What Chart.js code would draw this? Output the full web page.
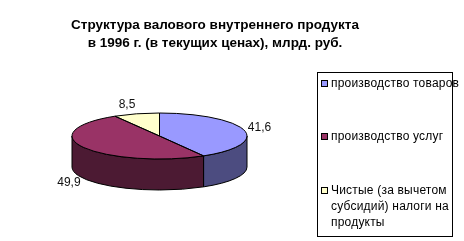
<!DOCTYPE html>
<html><head><meta charset="utf-8">
<script src="https://cdn.jsdelivr.net/npm/chart.js@4"></script>
<style>
html,body{margin:0;padding:0;background:#fff;}
#wrap{position:relative;width:464px;height:241px;overflow:hidden;font-family:"Liberation Sans",Arial,sans-serif;}
#c{position:absolute;left:0;top:0;}
#title{position:absolute;left:0;width:430px;top:16px;text-align:center;font-weight:bold;font-size:13.5px;line-height:18px;color:#000;}
#legend{position:absolute;left:317px;top:72px;width:136px;height:165px;border:1px solid #000;box-sizing:border-box;font-size:12px;letter-spacing:0.2px;color:#000;overflow:visible;}
.item{position:absolute;left:3px;white-space:nowrap;line-height:16px;}
.item span.m{position:absolute;left:0;top:5px;width:7px;height:7px;border:1px solid #000;box-sizing:border-box;}
.item div{margin-left:10px;}
</style></head>
<body><div id="wrap">
<canvas id="c" width="464" height="241"></canvas>
<div id="title">Структура валового внутреннего продукта<br>в 1996 г. (в текущих ценах), млрд. руб.</div>
<div id="legend"></div>
</div>
<script>
const categories = ["производство товаров", "производство услуг", "Чистые (за вычетом субсидий) налоги на продукты"];
const legendLines = [["производство товаров"], ["производство услуг"], ["Чистые (за вычетом", "субсидий) налоги на", "продукты"]];
const values = [41.6, 49.9, 8.5];
const valueLabels = ["41,6", "49,9", "8,5"];
const topColors = ["#9999FF", "#993366", "#FFFFCC"];
const sideColors = ["#4C4C80", "#4C1A33", "#808066"];

const CY = 136, RY = 23, DEPTH = 31;

const legend = document.getElementById('legend');
const itemTops = [2, 55, 109];
legendLines.forEach((lines, i) => {
  const it = document.createElement('div');
  it.className = 'item';
  it.style.top = itemTops[i] + 'px';
  it.innerHTML = '<span class="m" style="background:' + topColors[i] + '"></span><div>' + lines.join('<br>') + '</div>';
  legend.appendChild(it);
});

const pie3d = {
  id: 'pie3d',
  beforeDatasetsDraw(chart) {
    const ctx = chart.ctx;
    const arcs = chart.getDatasetMeta(0).data;
    const cx = arcs[0].x, rx = arcs[0].outerRadius, ry = RY;
    arcs.forEach((a, i) => {
      const s = Math.max(a.startAngle, 0), e = Math.min(a.endAngle, Math.PI);
      if (e <= s) return;
      ctx.beginPath();
      ctx.ellipse(cx, CY, rx, ry, 0, s, e);
      ctx.ellipse(cx, CY + DEPTH, rx, ry, 0, e, s, true);
      ctx.closePath();
      ctx.fillStyle = sideColors[i];
      ctx.fill();
      ctx.strokeStyle = '#000'; ctx.lineWidth = 1;
      ctx.stroke();
    });
    ctx.save();
    ctx.translate(0, CY);
    ctx.scale(1, ry / rx);
    ctx.translate(0, -arcs[0].y);
  },
  afterDatasetsDraw(chart) {
    const ctx = chart.ctx;
    ctx.restore();
    const arcs = chart.getDatasetMeta(0).data;
    const cx = arcs[0].x, rx = arcs[0].outerRadius, ry = RY;
    ctx.strokeStyle = '#000'; ctx.lineWidth = 1;
    arcs.forEach(a => {
      ctx.beginPath();
      ctx.moveTo(cx, CY);
      ctx.ellipse(cx, CY, rx, ry, 0, a.startAngle, a.endAngle);
      ctx.closePath();
      ctx.stroke();
    });
    ctx.font = '12px "Liberation Sans", Arial, sans-serif';
    ctx.fillStyle = '#111';
    ctx.textBaseline = 'middle';
    const d = 4, h = 12;
    arcs.forEach((a, i) => {
      const m = (a.startAngle + a.endAngle) / 2;
      const c = Math.cos(m), s = Math.sin(m);
      let x = cx + (rx + d) * c;
      let y = CY + (ry + d) * s + (s > 0 ? DEPTH : 0);
      y += s * Math.sqrt(Math.abs(s)) * h / 2;
      ctx.textAlign = c < 0 ? 'right' : 'left';
      ctx.fillText(valueLabels[i], x, y);
    });
  }
};

new Chart(document.getElementById('c'), {
  type: 'pie',
  data: {
    labels: categories,
    datasets: [{ data: values, backgroundColor: topColors, borderWidth: 0 }]
  },
  options: {
    responsive: false,
    animation: false,
    layout: { padding: { left: 72, right: 217, top: 0, bottom: 66 } },
    plugins: { legend: { display: false }, tooltip: { enabled: false } }
  },
  plugins: [pie3d]
});
</script>
</body></html>
